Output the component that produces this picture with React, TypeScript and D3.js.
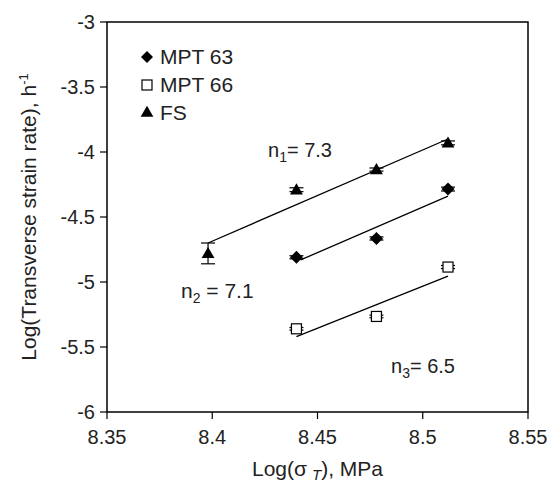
import React from "react";
import * as d3 from "d3";

const xTicks = [8.35, 8.4, 8.45, 8.5, 8.55];
const yTicks = [-3, -3.5, -4, -4.5, -5, -5.5, -6];

const fsX = [8.398, 8.44, 8.478, 8.512];
const fsY = [-4.78, -4.29, -4.135, -3.93];
const fsErr = [0.08, 0.015, 0.012, 0.015];

const m63X = [8.44, 8.478, 8.512];
const m63Y = [-4.81, -4.665, -4.285];
const m63Err = [0.012, 0.012, 0.015];

const m66X = [8.44, 8.478, 8.512];
const m66Y = [-5.36, -5.265, -4.885];
const m66Err = [0.01, 0.01, 0.012];

// fitted lines: [x0, x1], [y0, y1]
const fsFitX = [8.398, 8.512];
const fsFitY = [-4.7, -3.9];
const m63FitX = [8.442, 8.512];
const m63FitY = [-4.83, -4.34];
const m66FitX = [8.44, 8.512];
const m66FitY = [-5.42, -4.955];

const W = 551;
const H = 490;
const L = 107, R = 528, T = 22, B = 412;
const font = "'Liberation Sans', Arial, sans-serif";
const tc = "#222";

export default function App() {
  const x = d3.scaleLinear().domain([8.35, 8.55]).range([L, R]);
  const y = d3.scaleLinear().domain([-6, -3]).range([B, T]);
  const line = d3.line<[number, number]>().x((d) => x(d[0])).y((d) => y(d[1]));

  const errBars = (xs: number[], ys: number[], es: number[], key: string) =>
    xs.map((xv, i) => {
      const cx = x(xv);
      const y1 = y(ys[i] + es[i]);
      const y2 = y(ys[i] - es[i]);
      return (
        <g key={key + i} stroke="#000" strokeWidth={1.2}>
          <line x1={cx} x2={cx} y1={y1} y2={y2} />
          <line x1={cx - 7} x2={cx + 7} y1={y1} y2={y1} />
          <line x1={cx - 7} x2={cx + 7} y1={y2} y2={y2} />
        </g>
      );
    });

  const tri = d3.symbol(d3.symbolTriangle, 72)();
  const dia = (s: number) => `M0,${-s}L${s},0L0,${s}L${-s},0Z`;

  return (
    <svg width={W} height={H} style={{ display: "block", position: "absolute", left: 0, top: 0 }}>
      <rect width={W} height={H} fill="#fff" />
      {/* frame */}
      <rect x={L} y={T} width={R - L} height={B - T} fill="none" stroke="#000" strokeWidth={1.5} />
      {/* y ticks */}
      {yTicks.map((t) => (
        <g key={"y" + t}>
          <line x1={L - 7} x2={L} y1={y(t)} y2={y(t)} stroke="#000" strokeWidth={1.2} />
          <text x={L - 12} y={y(t)} dy="0.35em" textAnchor="end" fontFamily={font} fontSize={20} fill={tc}>
            {t}
          </text>
        </g>
      ))}
      {/* x ticks */}
      {xTicks.map((t) => (
        <g key={"x" + t}>
          <line x1={x(t)} x2={x(t)} y1={B} y2={B + 7} stroke="#000" strokeWidth={1.2} />
          <text x={x(t)} y={B + 32} textAnchor="middle" fontFamily={font} fontSize={20} fill={tc}>
            {t}
          </text>
        </g>
      ))}
      {/* axis titles */}
      <text
        transform={`translate(36, ${(T + B) / 2}) rotate(-90)`}
        textAnchor="middle"
        fontFamily={font}
        fontSize={21}
        fill={tc}
      >
        Log(Transverse strain rate), h
        <tspan dy={-8} fontSize={13}>-1</tspan>
      </text>
      <text x={(L + R) / 2} y={476} textAnchor="middle" fontFamily={font} fontSize={21} fill={tc}>
        Log(σ<tspan dx={5} dy={4} fontSize={15} fontStyle="italic">T</tspan>
        <tspan dy={-4}>), MPa</tspan>
      </text>

      {/* fit lines */}
      <path d={line([[fsFitX[0], fsFitY[0]], [fsFitX[1], fsFitY[1]]]) || ""} stroke="#000" strokeWidth={1.3} fill="none" />
      <path d={line([[m63FitX[0], m63FitY[0]], [m63FitX[1], m63FitY[1]]]) || ""} stroke="#000" strokeWidth={1.3} fill="none" />
      <path d={line([[m66FitX[0], m66FitY[0]], [m66FitX[1], m66FitY[1]]]) || ""} stroke="#000" strokeWidth={1.3} fill="none" />

      {/* error bars */}
      {errBars(fsX, fsY, fsErr, "fe")}
      {errBars(m63X, m63Y, m63Err, "me")}
      {errBars(m66X, m66Y, m66Err, "se")}

      {/* markers */}
      {fsX.map((xv, i) => (
        <path key={"f" + i} d={tri || ""} transform={`translate(${x(xv)},${y(fsY[i]) + 1})`} fill="#000" />
      ))}
      {m63X.map((xv, i) => (
        <path key={"m" + i} d={dia(6.5)} transform={`translate(${x(xv)},${y(m63Y[i])})`} fill="#000" />
      ))}
      {m66X.map((xv, i) => (
        <rect key={"s" + i} x={x(xv) - 5} y={y(m66Y[i]) - 5} width={10} height={10} fill="#fff" stroke="#000" strokeWidth={1.2} />
      ))}

      {/* legend */}
      <path d={dia(6)} transform="translate(147,57)" fill="#000" />
      <text x={160} y={57} dy="0.35em" fontFamily={font} fontSize={21} fill={tc}>MPT 63</text>
      <rect x={142} y={80} width={10} height={10} fill="#fff" stroke="#000" strokeWidth={1.2} />
      <text x={160} y={85} dy="0.35em" fontFamily={font} fontSize={21} fill={tc}>MPT 66</text>
      <path d={d3.symbol(d3.symbolTriangle, 70)() || ""} transform="translate(147,113)" fill="#000" />
      <text x={160} y={113} dy="0.35em" fontFamily={font} fontSize={21} fill={tc}>FS</text>

      {/* slope labels */}
      <text x={268} y={157} fontFamily={font} fontSize={20} fill={tc}>
        n<tspan dy={5} fontSize={14}>1</tspan><tspan dy={-5}>= 7.3</tspan>
      </text>
      <text x={181} y={298} fontFamily={font} fontSize={21} fill={tc}>
        n<tspan dy={5} fontSize={14}>2</tspan><tspan dy={-5}> = 7.1</tspan>
      </text>
      <text x={391} y={373} fontFamily={font} fontSize={20} fill={tc}>
        n<tspan dy={5} fontSize={14}>3</tspan><tspan dy={-5}>= 6.5</tspan>
      </text>
    </svg>
  );
}
